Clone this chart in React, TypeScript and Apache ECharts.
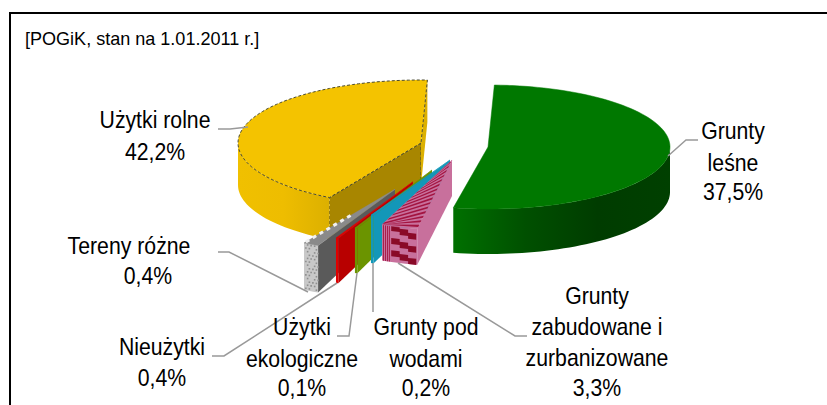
import React, { useEffect, useRef } from "react";
import * as echarts from "echarts";

const categories = ["Grunty leśne", "Grunty zabudowane i zurbanizowane", "Grunty pod wodami", "Użytki ekologiczne", "Nieużytki", "Tereny różne", "Użytki rolne"];
const percentLabels = ["37,5%", "3,3%", "0,2%", "0,1%", "0,4%", "0,4%", "42,2%"];
// Sweep of each slice in degrees, clockwise.
const sweeps = [189, 11.6, 0.8, 0.8, 0.8, 5, 152];
const firstAngle = 2;

const paintOrder = [6, 5, 4, 3, 2, 1, 0];
const sliceGeometry = [
  { cx: 488, cy: 147, rx: 182, ry: 62, depth: 45, apexDepth: 45, top: "#007800", cut: "#005c00", wallStops: ["#007000", "#005000", "#003c00", "#004000"] },
  { cx: 452, cy: 160, rx: 182, ry: 70, depth: 36, apexDepth: 36, top: "#c8709c", cut: "#c8709c", wallStops: ["#c8709c", "#c8709c"] },
  { cx: 450, cy: 160, rx: 199, ry: 60, depth: 48, apexDepth: 30, top: "#1397b8", cut: "#1397b8", wallStops: ["#1397b8", "#1397b8"] },
  { cx: 432, cy: 170, rx: 188, ry: 63.6, depth: 45, apexDepth: 30, top: "#6b9400", cut: "#6b9400", wallStops: ["#6b9400", "#6b9400"] },
  { cx: 412.9, cy: 181.8, rx: 182, ry: 62, depth: 45, apexDepth: 30, top: "#e00000", cut: "#b80000", wallStops: ["#e00000", "#e00000"] },
  { cx: 395, cy: 189.3, rx: 182, ry: 62, depth: 47, apexDepth: 30, top: "#8a8a8a", cut: "#5a5a5a", wallStops: ["#c8c8c8", "#c8c8c8"] },
  { cx: 421, cy: 143, rx: 183, ry: 63, depth: 42, apexDepth: 42, top: "#f4c300", cut: "#a88600", wallStops: ["#dcb000", "#eebd00", "#f0c000"] },
];

const labelFont = "24px 'Liberation Sans'";
const labelScale = 0.885;
const textItems: [string, number, number][] = [
  ["Użytki rolne", 155, 120], ["42,2%", 155, 152],
  ["Grunty", 733, 131], ["leśne", 733, 163], ["37,5%", 733, 192],
  ["Tereny różne", 129, 246], ["0,4%", 148, 276],
  ["Nieużytki", 162, 347], ["0,4%", 162, 378],
  ["Użytki", 302, 327], ["ekologiczne", 302, 359], ["0,1%", 302, 388],
  ["Grunty pod", 426, 327], ["wodami", 426, 359], ["0,2%", 426, 388],
  ["Grunty", 597, 296], ["zabudowane i", 597, 327], ["zurbanizowane", 597, 358], ["3,3%", 597, 388],
];

const leaders: number[][][] = [
  [[218, 129], [230, 129], [248, 127]],
  [[698, 140], [686, 140], [668, 156]],
  [[218, 252], [229, 252], [308, 292]],
  [[212, 356], [224, 356], [337, 283]],
  [[337, 336], [349, 336], [357, 273]],
  [[373, 312], [373, 263]],
  [[527, 336], [515, 336], [398, 263]],
];

const rad = (d: number) => (d * Math.PI) / 180;
const rimPoint = (g: any, a: number, dy = 0) => [g.cx + g.rx * Math.sin(rad(a)), g.cy - g.ry * Math.cos(rad(a)) + dy];
const arcPoints = (g: any, a0: number, a1: number, dy = 0) => {
  const n = Math.max(2, Math.ceil(Math.abs(a1 - a0) / 2));
  const pts: number[][] = [];
  for (let i = 0; i <= n; i++) pts.push(rimPoint(g, a0 + ((a1 - a0) * i) / n, dy));
  return pts;
};
const lerp = (p: number[], q: number[], t: number) => [p[0] + (q[0] - p[0]) * t, p[1] + (q[1] - p[1]) * t];
const hGrad = (stops: string[]) => ({
  type: "linear", x: 0, y: 0, x2: 1, y2: 0,
  colorStops: stops.map((c, i) => ({ offset: i / (stops.length - 1), color: c })),
});

function renderSlice(params: any, api: any) {
  const idx = params.dataIndex;
  const g = sliceGeometry[idx];
  let a0 = firstAngle;
  for (let i = 0; i < idx; i++) a0 += sweeps[i];
  const a1 = a0 + Number(api.value(0));
  const base = paintOrder.indexOf(idx) * 40 + 1;
  const kids: any[] = [];
  let k = 0;
  const poly = (points: number[][], style: any) => kids.push({ type: "polygon", z2: base + k++, shape: { points }, style: { lineWidth: 0, ...style } });
  const C = [g.cx, g.cy];
  const Cd = [g.cx, g.cy + g.apexDepth];
  const dashed = idx === 6 ? { stroke: "#4a4a30", lineWidth: 1, lineDash: [3, 2] } : {};

  // cut wall on the end edge
  if (idx !== 0) {
    const r = rimPoint(g, a0, 0), rd = rimPoint(g, a0, g.depth);
    poly([C, r, rd, Cd], { fill: g.cut, ...dashed });
  }
  if (idx === 6) {
    const r = rimPoint(g, a1), rd = rimPoint(g, a1, g.depth);
    poly([C, r, rd, Cd], { fill: "#dcb000" });
  }
  // outer wall
  const w0 = Math.max(a0, 90), w1 = Math.min(a1, 270);
  if (w1 > w0) {
    const topArc = arcPoints(g, w0, w1);
    const botArc = arcPoints(g, w1, w0, g.depth);
    poly([...topArc, ...botArc], { fill: hGrad(idx === 0 ? g.wallStops : [...g.wallStops].reverse()) });
    const tl = topArc[0], tr = topArc[topArc.length - 1], br = botArc[0], bl = botArc[botArc.length - 1];
    const uv = (u: number, v: number) => lerp(lerp(tl, tr, u), lerp(bl, br, u), v);
    if (idx === 5) {
      // speckled grey face
      const rows = 14, cols = 4;
      for (let r = 0; r < rows; r++) {
        for (let c = 0; c < cols; c++) {
          if ((r * 3 + c * 5) % 4 === 0) continue;
          const p = uv((c + 0.5 * (r % 2)) / cols + 0.05, (r + 0.2) / rows);
          poly([p, [p[0] + 1.6, p[1]], [p[0] + 1.6, p[1] + 1.6], [p[0], p[1] + 1.6]], { fill: "#8e8e8e" });
        }
      }
    }
    if (idx === 1) {
      // u runs right to left along the wall here; stair bands descend to the right
      const stair = (b: number) => {
        const step = 0.08, thick = 0.17;
        const us = [0.74, 0.5, 0.26, 0.03];
        const upper: number[][] = [];
        const lower: number[][] = [];
        for (let i = 0; i < 3; i++) {
          upper.push(uv(us[i], b + i * step), uv(us[i + 1], b + i * step));
          lower.push(uv(us[i], b + thick + i * step), uv(us[i + 1], b + thick + i * step));
        }
        poly([...upper, ...lower.reverse()], { fill: "#8a0a28" });
      };
      [-0.02, 0.34, 0.68].forEach(stair);
      // fine stripes on the left part of the wall
      for (let i = 0; i < 4; i++) {
        const u = 0.78 + i * 0.055;
        poly([uv(u, 0), uv(u + 0.025, 0), uv(u + 0.025, 1), uv(u, 1)], { fill: "#a31440" });
      }
    }
  }
  // top face
  poly([C, ...arcPoints(g, a0, a1)], { fill: g.top, ...(idx === 6 ? dashed : { stroke: g.top, lineWidth: 0.5 }) });
  if (idx === 1) {
    const r0 = rimPoint(g, a0), r1 = rimPoint(g, a1);
    const n = 15, slant = 0.22;
    const clamp = (t: number) => Math.max(0, Math.min(0.97, t));
    for (let i = -4; i < n; i++) {
      const t0 = (i + 0.1) / n, t1 = (i + 0.55) / n;
      poly([
        lerp(r0, C, clamp(t0 + slant)), lerp(r0, C, clamp(t1 + slant)),
        lerp(r1, C, clamp(t1)), lerp(r1, C, clamp(t0)),
      ], { fill: "#a31440" });
    }
  }
  if (idx === 5) {
    // pale blobs along the thin top strip
    const r = rimPoint(g, a1);
    kids.push({ type: "polyline", z2: base + k++, shape: { points: [lerp(r, C, 0.02), lerp(r, C, 0.55)] }, style: { stroke: "#f0f0f0", lineWidth: 3, lineDash: [4, 4], fill: "none" } });
  }
  return { type: "group", children: kids };
}

export default function App() {
  const ref = useRef<HTMLDivElement>(null);
  useEffect(() => {
    const chart = echarts.init(ref.current!, null, { renderer: "svg" });
    chart.setOption({
      animation: false,
      backgroundColor: "#ffffff",
      graphic: [
        { type: "rect", z: 0, shape: { x: 10, y: 13, width: 900, height: 500 }, style: { fill: "#fff", stroke: "#000", lineWidth: 2 } },
        { type: "text", z: 10, x: 25, y: 38, scaleX: 0.95, style: { text: "[POGiK, stan na 1.01.2011 r.]", font: "19px 'Liberation Sans'", fill: "#000", textAlign: "left", textVerticalAlign: "middle" } },
        ...textItems.map(([text, x, y]) => ({
          type: "text", z: 10, x, y, scaleX: labelScale,
          style: { text, font: labelFont, fill: "#000", textAlign: "center", textVerticalAlign: "middle" },
        })),
        ...leaders.map((points) => ({
          type: "polyline", z: 9, shape: { points },
          style: { stroke: "#999999", lineWidth: 1.5, fill: "none" },
        })),
      ],
      series: [
        {
          type: "custom",
          coordinateSystem: "none",
          z: 5,
          renderItem: renderSlice,
          data: categories.map((name, i) => ({ name, value: [sweeps[i], percentLabels[i]] })),
          silent: true,
        },
      ],
    });
    return () => chart.dispose();
  }, []);
  return <div ref={ref} style={{ position: "absolute", left: 0, top: 0, width: 827, height: 405 }} />;
}
